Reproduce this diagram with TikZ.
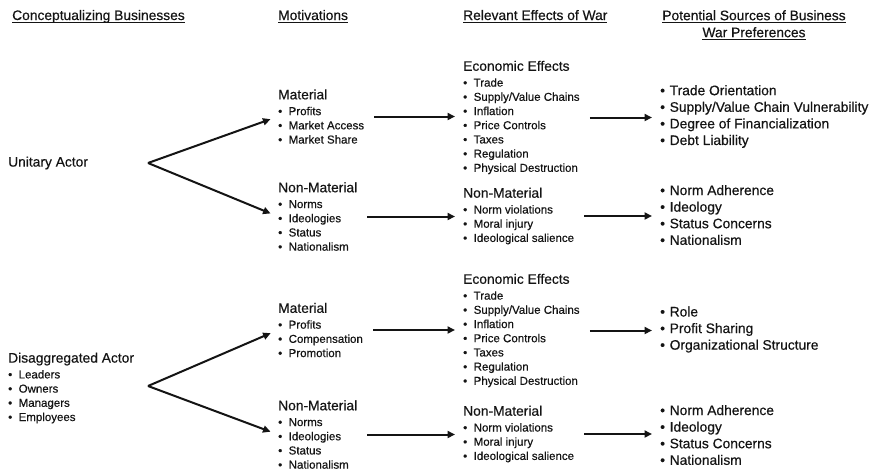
\documentclass[tikz,border=0pt]{standalone}
\usepackage{fontspec}
\setmainfont{Liberation Sans}[FakeBold=0.4]
\usetikzlibrary{arrows.meta}
\definecolor{inkdark}{RGB}{20, 20, 20}
\newsavebox{\ulbox}
\newcommand{\ulhead}[1]{\sbox{\ulbox}{#1}\rlap{\rule[-2.8pt]{\wd\ulbox}{1.3pt}}\usebox{\ulbox}}
\newcommand{\bul}{\makebox[10.5pt][l]{\textbullet}}
\newcommand{\sbul}{\makebox[9.5pt][l]{\textbullet}}
\newcommand{\hd}[1]{{\fontsize{13.8}{16}\selectfont #1}\\[1.6pt]}

\begin{document}
\begin{tikzpicture}[x=1pt, y=-1pt, inkdark,
  colhead/.style={font=\fontsize{13.8}{17}\selectfont, inner sep=0pt},
  block/.style={anchor=west, align=left, inner sep=0pt, font=\fontsize{11.5}{14.2}\selectfont},
  srclist/.style={anchor=west, align=left, inner sep=0pt, font=\fontsize{13.8}{16.6}\selectfont},
  actor/.style={anchor=west, align=left, inner sep=0pt, font=\fontsize{11.5}{14.2}\selectfont},
  arr/.style={-{Triangle[length=7.5pt, width=7pt]}, line width=2pt, shorten >=8pt}]
  \useasboundingbox[fill=white] (0,0) rectangle (872,472);

  % column heads
  \node[colhead, anchor=base west] (hbiz) at (12,20) {\ulhead{Conceptualizing Businesses}};
  \node[colhead, anchor=base west] (hmot) at (278,20) {\ulhead{Motivations}};
  \node[colhead, anchor=base west] (heff) at (463,20) {\ulhead{Relevant Effects of War}};
  \node[colhead, anchor=north, align=center] (hsrc) at (754,10)
    {\ulhead{Potential Sources of Business}\\\ulhead{War Preferences}};

  % unitary actor
  \node[actor, font=\fontsize{13.8}{16}\selectfont] (ua) at (8,163) {Unitary Actor};
  \coordinate (ufork) at (148,163);
  \node[block] (umat) at (278,116.5) {\hd{Material}\bul Profits\\\bul Market Access\\\bul Market Share};
  \node[block] (unon) at (278,216.5) {\hd{Non-Material}\bul Norms\\\bul Ideologies\\\bul Status\\\bul Nationalism};
  \node[block] (ueco) at (463,117.5) {\hd{Economic Effects}\bul Trade\\\bul Supply/Value Chains\\\bul Inflation\\\bul Price Controls\\\bul Taxes\\\bul Regulation\\\bul Physical Destruction};
  \node[block] (uenm) at (463,216) {\hd{Non-Material}\bul Norm violations\\\bul Moral injury\\\bul Ideological salience};
  \node[srclist] (usrc) at (660,116.5) {\sbul Trade Orientation\\\sbul Supply/Value Chain Vulnerability\\\sbul Degree of Financialization\\\sbul Debt Liability};
  \node[srclist] (usnm) at (660,215) {\sbul Norm Adherence\\\sbul Ideology\\\sbul Status Concerns\\\sbul Nationalism};

  % disaggregated actor
  \node[actor] (da) at (8,388) {\hd{Disaggregated Actor}\bul Leaders\\\bul Owners\\\bul Managers\\\bul Employees};
  \coordinate (dfork) at (148,386);
  \node[block] (dmat) at (278,330) {\hd{Material}\bul Profits\\\bul Compensation\\\bul Promotion};
  \node[block] (dnon) at (278,434.5) {\hd{Non-Material}\bul Norms\\\bul Ideologies\\\bul Status\\\bul Nationalism};
  \node[block] (deco) at (463,330.5) {\hd{Economic Effects}\bul Trade\\\bul Supply/Value Chains\\\bul Inflation\\\bul Price Controls\\\bul Taxes\\\bul Regulation\\\bul Physical Destruction};
  \node[block] (denm) at (463,434) {\hd{Non-Material}\bul Norm violations\\\bul Moral injury\\\bul Ideological salience};
  \node[srclist] (dsrc) at (660,329.5) {\sbul Role\\\sbul Profit Sharing\\\sbul Organizational Structure};
  \node[srclist] (dsnm) at (660,435) {\sbul Norm Adherence\\\sbul Ideology\\\sbul Status Concerns\\\sbul Nationalism};

  % arrows
  \draw[arr] (ufork) -- (umat.west);
  \draw[arr] (ufork) -- (unon.west);
  \draw[arr] (dfork) -- (dmat.west);
  \draw[arr] (dfork) -- (dnon.west);
  \draw[arr, shorten <=10pt] (umat.east) -- (umat.east -| ueco.west);
  \draw[arr, shorten <=10pt] (unon.east) -- (unon.east -| uenm.west);
  \draw[arr, shorten <=10pt] (ueco.east) -- (ueco.east -| usrc.west);
  \draw[arr, shorten <=10pt] (uenm.east) -- (uenm.east -| usnm.west);
  \draw[arr, shorten <=10pt] (dmat.east) -- (dmat.east -| deco.west);
  \draw[arr, shorten <=10pt] (dnon.east) -- (dnon.east -| denm.west);
  \draw[arr, shorten <=10pt] (deco.east) -- (deco.east -| dsrc.west);
  \draw[arr, shorten <=10pt] (denm.east) -- (denm.east -| dsnm.west);
\end{tikzpicture}
\end{document}
